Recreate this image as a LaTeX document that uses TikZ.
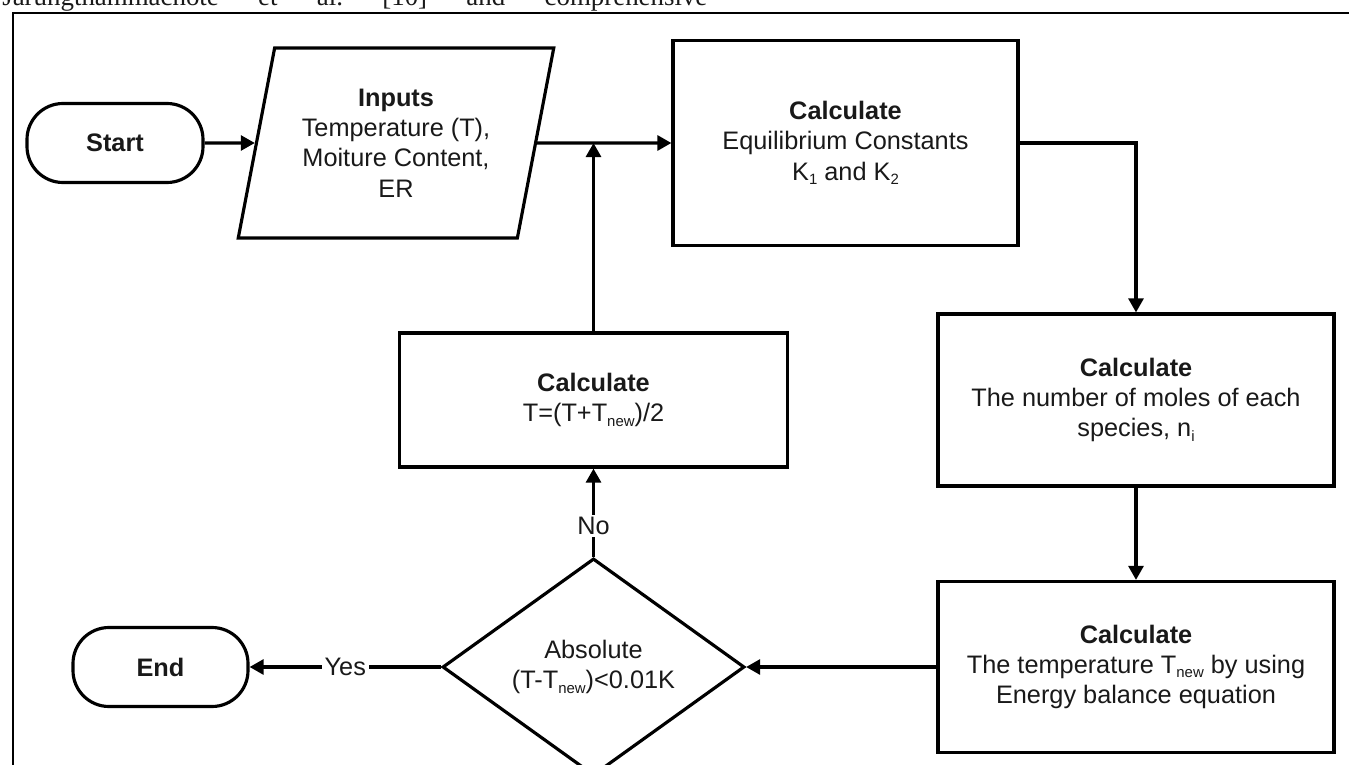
\documentclass[tikz,border=0pt]{standalone}
\usepackage{fontspec}
\setmainfont{Liberation Sans}
\newfontfamily\bodyserif{Liberation Serif}
\usepackage{tikz}
\usetikzlibrary{shapes.geometric, arrows.meta, positioning, calc}

% small lowered index, as in T_new
\newcommand{\lowidx}[1]{\raisebox{-2.5pt}{\fontsize{8.5}{9}\selectfont #1}}

\begin{document}
\begin{tikzpicture}[
    every node/.style={font=\fontsize{14.4}{17.3}\selectfont, text=black!90},
    term/.style={draw, rectangle, rounded corners=0.72cm, minimum width=3.52cm, minimum height=1.58cm, line width=1.8pt, font=\fontsize{14.4}{17.3}\selectfont\bfseries},
    io/.style={draw, trapezium, trapezium left angle=76, trapezium right angle=104, trapezium stretches, minimum width=6.32cm, minimum height=3.8cm, line width=1.8pt, align=center},
    proc/.style={draw, rectangle, align=center, line width=1.8pt},
    decision/.style={draw, diamond, minimum width=6.04cm, minimum height=3.6cm, inner sep=0pt, align=center, line width=1.8pt},
    lbl/.style={fill=white, inner sep=1.5pt},
    arrow/.style={-{Triangle[length=8pt, width=8.5pt]}, line width=1.8pt},
    frame/.style={line width=1pt},
]
\useasboundingbox (0,0) rectangle (26.98,-15.30);

% Page text and frame
\node[anchor=base west, inner sep=0pt, font=\bodyserif\fontsize{15.3}{18}\selectfont] (citeline) at (0.04,-0.11) {\frenchspacing\makebox[14.1cm][s]{Jarungthammachote et al. [10] and comprehensive}};
\draw[frame] (0.26,-15.6) -- (0.26,-0.26) -- (27.2,-0.26);

% Top row
\node[term] (start) at (2.30,-2.86) {Start};
\node[io] (inputs) at (7.92,-2.86) {\textbf{Inputs}\\Temperature (T),\\Moiture Content,\\ER};
\node[proc, minimum width=6.9cm, minimum height=4.1cm] (calcK) at (16.91,-2.86) {\textbf{Calculate}\\Equilibrium Constants\\K\lowidx{1} and K\lowidx{2}};

% Right column
\node[proc, minimum width=7.92cm, minimum height=3.44cm] (calcN) at (22.72,-8.00) {\textbf{Calculate}\\The number of moles of each\\species, n\lowidx{i}};
\node[proc, minimum width=7.92cm, minimum height=3.42cm] (calcT) at (22.72,-13.34) {\textbf{Calculate}\\The temperature T\lowidx{new} by using\\Energy balance equation};

% Check and loop back
\node[decision] (check) at (11.87,-13.34) {Absolute\\(T-T\lowidx{new})<0.01K};
\node[proc, minimum width=7.76cm, minimum height=2.68cm] (calcAvg) at (11.87,-8.00) {\textbf{Calculate}\\T=(T+T\lowidx{new})/2};
\node[term, minimum width=3.5cm] (end) at (3.21,-13.34) {End};

% Arrows
\draw[arrow] (start) -- (inputs);
\draw[arrow] (inputs) -- (calcK);
\draw[arrow] (calcK.east) -| (calcN.north);
\draw[arrow] (calcN) -- (calcT);
\draw[arrow] (calcT) -- (check);
\draw[arrow] (check) -- node[lbl]{Yes} (end);
\draw[arrow] (check) -- node[lbl, pos=0.35]{No} (calcAvg);
\draw[arrow] (calcAvg) -- (calcAvg |- inputs.east);

\end{tikzpicture}
\end{document}
